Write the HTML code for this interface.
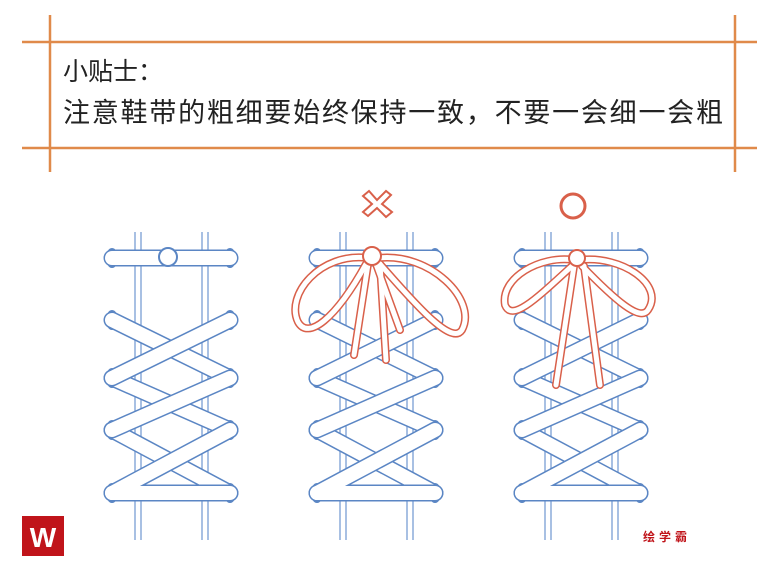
<!DOCTYPE html><html><head><style>body{margin:0;background:#fff}svg{display:block}</style></head><body>
<svg width="778" height="572" xmlns="http://www.w3.org/2000/svg" font-family="Liberation Sans, Noto Sans CJK SC, sans-serif">
<g stroke="#e08a4a" stroke-width="2.5">
<line x1="22" y1="42" x2="757" y2="42"/><line x1="22" y1="148" x2="757" y2="148"/>
<line x1="50" y1="15" x2="50" y2="172"/><line x1="735" y1="15" x2="735" y2="172"/>
</g>
<text x="63" y="80" font-size="25" fill="#222">小贴士：</text>
<text x="63" y="122" font-size="27" fill="#222" textLength="660">注意鞋带的粗细要始终保持一致，不要一会细一会粗</text>
<defs>
<g id="p">
<g stroke="#7a9fd4" stroke-width="1.3" fill="none">
<line x1="135" y1="232" x2="135" y2="540"/><line x1="141" y1="232" x2="141" y2="540"/>
<line x1="202" y1="232" x2="202" y2="540"/><line x1="208" y1="232" x2="208" y2="540"/>
</g>
<g fill="none" stroke="#5b86c4" stroke-width="2">
<ellipse cx="112" cy="258" rx="5" ry="9"/><ellipse cx="230" cy="258" rx="5" ry="9"/>
<ellipse cx="112" cy="320" rx="5" ry="9"/><ellipse cx="230" cy="320" rx="5" ry="9"/>
<ellipse cx="112" cy="378" rx="5" ry="9"/><ellipse cx="230" cy="378" rx="5" ry="9"/>
<ellipse cx="112" cy="430" rx="5" ry="9"/><ellipse cx="230" cy="430" rx="5" ry="9"/>
<ellipse cx="112" cy="493" rx="5" ry="9"/><ellipse cx="230" cy="493" rx="5" ry="9"/>
</g>
<g stroke-linecap="round">
<g stroke="#5b86c4" stroke-width="17">
<line x1="112" y1="320" x2="230" y2="378"/><line x1="112" y1="378" x2="230" y2="430"/><line x1="112" y1="430" x2="230" y2="493"/>
<line x1="112" y1="258" x2="230" y2="258"/>
</g>
<g stroke="#fff" stroke-width="14">
<line x1="112" y1="320" x2="230" y2="378"/><line x1="112" y1="378" x2="230" y2="430"/><line x1="112" y1="430" x2="230" y2="493"/>
<line x1="112" y1="258" x2="230" y2="258"/>
</g>
<g stroke="#5b86c4" stroke-width="17">
<line x1="230" y1="320" x2="112" y2="378"/><line x1="230" y1="378" x2="112" y2="430"/><line x1="230" y1="430" x2="112" y2="493"/>
<line x1="112" y1="493" x2="230" y2="493"/>
</g>
<g stroke="#fff" stroke-width="14">
<line x1="230" y1="320" x2="112" y2="378"/><line x1="230" y1="378" x2="112" y2="430"/><line x1="230" y1="430" x2="112" y2="493"/>
<line x1="112" y1="493" x2="230" y2="493"/>
</g>
</g>
</g>
</defs>
<use href="#p"/>
<circle cx="168" cy="257" r="9" fill="#fff" stroke="#5b86c4" stroke-width="2"/>
<use href="#p" x="205"/>
<use href="#p" x="410"/>
<g fill="none" stroke-linecap="round">
<g stroke="#d9604a" stroke-width="8">
<path d="M368 258 C320 252 285 295 298 322 C308 340 335 320 366 264"/>
<path d="M378 258 C430 252 478 300 462 330 C452 345 420 310 380 264"/>
<path d="M368 264 L354 355"/><path d="M380 264 L386 360"/><path d="M376 264 L400 330"/>
<path d="M574 260 C540 255 500 278 505 305 C512 322 535 300 572 266"/>
<path d="M580 260 C622 255 665 285 648 310 C640 322 615 300 582 266"/>
<path d="M574 266 L556 385"/><path d="M584 266 L600 385"/>
</g>
<g stroke="#fff" stroke-width="5">
<path d="M368 258 C320 252 285 295 298 322 C308 340 335 320 366 264"/>
<path d="M378 258 C430 252 478 300 462 330 C452 345 420 310 380 264"/>
<path d="M368 264 L354 355"/><path d="M380 264 L386 360"/><path d="M376 264 L400 330"/>
<path d="M574 260 C540 255 500 278 505 305 C512 322 535 300 572 266"/>
<path d="M580 260 C622 255 665 285 648 310 C640 322 615 300 582 266"/>
<path d="M574 266 L556 385"/><path d="M584 266 L600 385"/>
</g>
</g>
<g fill="#fff" stroke="#d9604a" stroke-width="2">
<circle cx="372" cy="256" r="9"/>
<path d="M363 196 L372 204 L363 212 L368 216 L377 208 L386 217 L392 212 L382 204 L391 195 L386 191 L377 200 L369 191 Z"/>
<circle cx="573" cy="206" r="12" fill="none" stroke-width="3"/>
<circle cx="577" cy="258" r="8"/>
</g>
<rect x="22" y="516" width="42" height="40" fill="#c0141a"/>
<text x="43" y="547" font-size="28" font-weight="bold" fill="#fff" text-anchor="middle">W</text>
<text x="643" y="541" font-size="12" font-weight="bold" fill="#c0141a" letter-spacing="4">绘学霸</text>
</svg>
</body></html>
